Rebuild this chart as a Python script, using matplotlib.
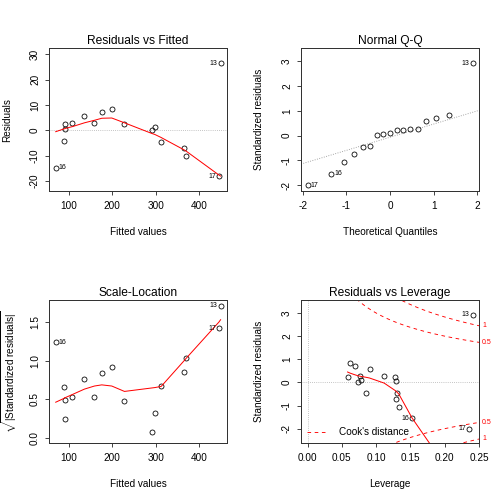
import numpy as np
import matplotlib as mpl
import matplotlib.pyplot as plt
import matplotlib.transforms as mtransforms

fitted = [69.2, 88.4, 90.0, 91.5, 107.7, 135.5, 158.6, 175.6, 198.7, 228.0,
          291.2, 298.2, 312.8, 366.0, 369.9, 446.2, 450.0]
resid = [-14.7, -4.2, 0.5, 2.4, 2.8, 5.8, 2.8, 7.1, 8.5, 2.4,
         0.0, 1.2, -4.5, -6.8, -10.2, -18.1, 26.5]
std_resid = [-1.54, -0.44, 0.06, 0.235, 0.275, 0.575, 0.28, 0.70, 0.835, 0.232,
             0.005, 0.105, -0.45, -0.73, -1.07, -2.01, 2.93]
leverage = [0.1524, 0.1306, 0.1296, 0.1282, 0.1117, 0.0903, 0.0762, 0.0689, 0.0621, 0.0583,
            0.0733, 0.0777, 0.0854, 0.1296, 0.1330, 0.2354, 0.2405]
obs_label = ['16', '', '', '', '', '', '', '', '', '',
             '', '', '', '', '', '17', '13']

# theoretical normal quantiles on the Q-Q panel
theo_q = [-1.89, -1.35, -1.05, -0.82, -0.63, -0.46, -0.30, -0.15, 0.0,
          0.15, 0.30, 0.46, 0.63, 0.82, 1.05, 1.35, 1.89]
qq_line = ([-2.0, 2.0], [-1.13, 1.0])

# red smoother lines
smooth_rf = [-0.5, 0.6, 0.7, 0.8, 1.5, 3.0, 4.0, 4.8, 4.9, 3.0,
             -1.2, -1.6, -2.8, -7.7, -8.1, -17.6, -18.0]
smooth_sl = [0.46, 0.51, 0.52, 0.52, 0.56, 0.63, 0.67, 0.685, 0.67, 0.60,
             0.645, 0.65, 0.665, 1.0, 1.026, 1.50, 1.53]
smooth_lev_x = [0.0583, 0.0621, 0.0689, 0.0733, 0.0762, 0.0777, 0.0854, 0.0903, 0.1117,
                0.1282, 0.1296, 0.1296, 0.1306, 0.1330, 0.1524, 0.2354, 0.2405]
smooth_lev_y = [0.45, 0.40, 0.33, 0.29, 0.27, 0.26, 0.22, 0.19, -0.03,
                -0.36, -0.40, -0.40, -0.43, -0.50, -1.54, -5.1, -5.3]

cook_levels = [0.5, 1]
n_par = 2

# configuration
mpl.rcParams['font.family'] = 'Liberation Sans'
mpl.rcParams['mathtext.fontset'] = 'custom'
mpl.rcParams['mathtext.rm'] = 'Liberation Sans'
mpl.rcParams['mathtext.it'] = 'Liberation Sans'
mpl.rcParams['axes.unicode_minus'] = False
mpl.rcParams['font.size'] = 10

fig = plt.figure(figsize=(7, 7), dpi=72)
W = 504.0
boxes = [(49, 48.3), (301, 48.3), (49, 300.3), (301, 300.3)]
bw, bh = 178.3, 142.7
axes = [fig.add_axes([x / W, 1 - (y + bh) / W, bw / W, bh / W]) for x, y in boxes]


def setup(ax, xlim, ylim, xticks, yticks, title, xlabel, ylabel, xfmt=None, yfmt=None):
    ax.set_xlim(xlim)
    ax.set_ylim(ylim)
    ax.set_xticks(xticks)
    ax.set_yticks(yticks)
    if xfmt:
        ax.set_xticklabels([xfmt % v for v in xticks])
    if yfmt:
        ax.set_yticklabels([yfmt % v for v in yticks])
    for s in ax.spines.values():
        s.set_color('#333333')
        s.set_linewidth(1.0)
    ax.tick_params(length=4, width=0.9, color='#333333', labelsize=10, pad=6)
    ax.tick_params(axis='y', labelrotation=90, pad=5)
    for lab in ax.get_yticklabels():
        lab.set_va('center')
    ax.set_title(title, fontsize=12, pad=4.5)
    ax.set_xlabel(xlabel, fontsize=10, va='center')
    ax.set_ylabel(ylabel, fontsize=10, va='center')
    ax.xaxis.set_label_coords(0.5, -41.0 / bh)
    ax.yaxis.set_label_coords(-41.7 / bw, 0.5)


def points(ax, x, y):
    ax.plot(x, y, 'o', ms=5, mfc='none', mec='black', mew=0.8, clip_on=False)


def id_labels(ax, x, y, labels, mid):
    for xi, yi, lab in zip(x, y, labels):
        if not lab:
            continue
        right = xi <= mid
        ax.annotate(lab, (xi, yi), xytext=(3 if right else -3, 0), textcoords='offset points',
                    ha='left' if right else 'right', va='center', fontsize=7,
                    annotation_clip=False)


# Residuals vs Fitted
ax = axes[0]
setup(ax, (53.7, 465.5), (-23.9, 32.4), [100, 200, 300, 400], [-20, -10, 0, 10, 20, 30],
      'Residuals vs Fitted', 'Fitted values', 'Residuals')
ax.axhline(0, color='#aaaaaa', ls=':', lw=0.8)
points(ax, fitted, resid)
ax.plot(fitted, smooth_rf, color='red', lw=1)
id_labels(ax, fitted, resid, obs_label, 260)

# Normal Q-Q
ax = axes[1]
setup(ax, (-2.04, 2.045), (-2.24, 3.53), [-2, -1, 0, 1, 2], [-2, -1, 0, 1, 2, 3],
      'Normal Q-Q', 'Theoretical Quantiles', 'Standardized residuals')
ax.axline((qq_line[0][0], qq_line[1][0]), (qq_line[0][1], qq_line[1][1]),
          color='#999999', ls=':', lw=0.9)
order = np.argsort(std_resid, kind='stable')
qq_y = np.array(std_resid)[order]
qq_lab = np.array(obs_label)[order]
points(ax, theo_q, qq_y)
id_labels(ax, theo_q, qq_y, qq_lab, 0)

# Scale-Location
ax = axes[2]
sl = np.sqrt(np.abs(std_resid))
setup(ax, (53.7, 465.5), (-0.069, 1.782), [100, 200, 300, 400], [0.0, 0.5, 1.0, 1.5],
      'Scale-Location', 'Fitted values', r'$\sqrt{|\mathrm{Standardized\ residuals}|}$',
      yfmt='%.1f')
ax.yaxis.set_label_coords(-39.5 / bw, 0.5)
points(ax, fitted, sl)
ax.plot(fitted, smooth_sl, color='red', lw=1)
id_labels(ax, fitted, sl, obs_label, 260)

# Residuals vs Leverage
ax = axes[3]
xmax = 0.2504
setup(ax, (-0.0096, xmax), (-2.62, 3.55), [0.0, 0.05, 0.10, 0.15, 0.20, 0.25],
      [-2, -1, 0, 1, 2, 3], 'Residuals vs Leverage', 'Leverage', 'Standardized residuals',
      xfmt='%.2f')
ax.axhline(0, color='#aaaaaa', ls=':', lw=0.8)
ax.axvline(0, color='#aaaaaa', ls=':', lw=0.8)
points(ax, leverage, std_resid)
ax.plot(smooth_lev_x, smooth_lev_y, color='red', lw=1)
hh = np.linspace(min(leverage) / 100 * 4, xmax, 101)
for i, lev in enumerate(cook_levels):
    cy = np.sqrt(lev * n_par * (1 - hh) / hh)
    ax.plot(hh, cy, color='red', ls=(0, (4, 4)), lw=0.9,
            label="Cook's distance" if i == 0 else None)
    ax.plot(hh, -cy, color='red', ls=(0, (4, 4)), lw=0.9)
    yl = np.sqrt(lev * n_par * (1 - xmax) / xmax)
    trans = mtransforms.blended_transform_factory(ax.transAxes, ax.transData)
    for yy in (yl, -yl):
        ax.text(1.015, yy, str(lev), color='red', fontsize=7, ha='left', va='center',
                transform=trans, clip_on=False)
id_labels(ax, leverage, std_resid, obs_label, 0.149)
ax.legend(loc='lower left', frameon=False, fontsize=10, handlelength=2.0,
          borderaxespad=0.2, handletextpad=1.2)

plt.savefig('out.png', dpi=72)
